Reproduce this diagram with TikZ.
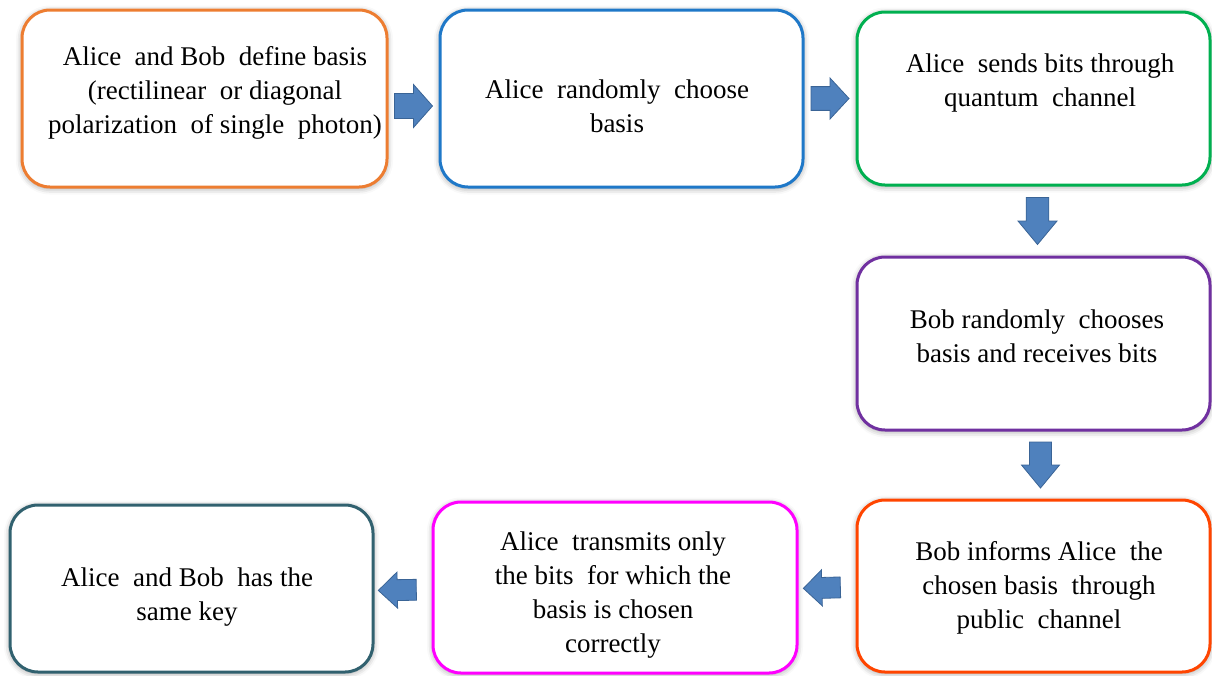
\documentclass[tikz,border=0pt]{standalone}
\usepackage{fontspec}
\setmainfont{Liberation Serif}[Ligatures=TeX]
\newfontfamily\tnr{Liberation Serif}
\usetikzlibrary{shadows.blur}
\definecolor{cOrange}{HTML}{ED7D31}
\definecolor{cBlue}{HTML}{1F78C8}
\definecolor{cGreen}{HTML}{00B050}
\definecolor{cPurple}{HTML}{7030A0}
\definecolor{cRed}{HTML}{FF4500}
\definecolor{cMagenta}{HTML}{FF00FF}
\definecolor{cTeal}{HTML}{31616F}
\definecolor{arrowfill}{HTML}{4F81BD}
\definecolor{arrowedge}{HTML}{3A6496}
\tikzset{
  box/.style={draw=#1, line width=3pt, rounded corners=28pt, fill=white,
    inner sep=0pt,
    blur shadow={shadow xshift=0pt, shadow yshift=-1.5pt, shadow blur radius=6pt, shadow opacity=40}},
  txt/.style={align=center, inner sep=0pt, font=\tnr\fontsize{27}{34}\selectfont},
  pics/barrow/.style 2 args={code={
    \fill[arrowfill, draw=arrowedge, line width=0.8pt, line join=miter]
      ({-#1/2},{-#2*0.29}) -- (0,{-#2*0.29}) -- (0,{-#2/2}) -- ({#1/2},0)
      -- (0,{#2/2}) -- (0,{#2*0.29}) -- ({-#1/2},{#2*0.29}) -- cycle;
  }},
  conn/.style={pos=0.5, sloped, allow upside down}
}
\begin{document}
\begin{tikzpicture}[x=1pt,y=-1pt]
\useasboundingbox (0,0) rectangle (1212,675);
% boxes
\node[box=cOrange,  minimum width=365pt, minimum height=177pt] (b1) at (204.5,98.5) {};
\node[box=cBlue,    minimum width=363pt, minimum height=177pt] (b2) at (621.5,98.5) {};
\node[box=cGreen,   minimum width=353pt, minimum height=173pt] (b3) at (1033.5,98.5) {};
\node[box=cPurple,  minimum width=353pt, minimum height=173pt] (b4) at (1033.5,343.5) {};
\node[box=cRed,     minimum width=353pt, minimum height=172pt] (b5) at (1033.5,586) {};
\node[box=cMagenta, minimum width=364pt, minimum height=171pt] (b6) at (615,587.5) {};
\node[box=cTeal,    minimum width=363pt, minimum height=167pt] (b7) at (191.5,588.5) {};
% texts
\node[txt] (t1) at (215,92.5) {Alice\ \ and Bob\ \ define basis\\(rectilinear\ \ or diagonal\\polarization\ \ of single\ \ photon)};
\node[txt] (t2) at (617,106) {Alice\ \ randomly\ \ choose\\basis};
\node[txt] (t3) at (1040,83) {Alice\ \ sends bits through\\quantum\ \ channel};
\node[txt] (t4) at (1037,336.5) {Bob randomly\ \ chooses\\basis and receives bits};
\node[txt] (t5) at (1039,588) {Bob informs Alice\ \ the\\chosen basis\ \ through\\public\ \ channel};
\node[txt] (t6) at (613,595.5) {Alice\ \ transmits only\\the bits\ \ for which the\\basis is chosen\\correctly};
\node[txt] (t7) at (187,597.5) {Alice\ \ and Bob\ \ has the\\same key};
% block arrows
\path ([yshift=-7.5pt]b1.east) -- ([yshift=-7.5pt]b2.west) pic[conn]{barrow={38}{43}};
\path (b2.east) -- (b3.west) pic[conn]{barrow={38}{41}};
\path ([xshift=4pt]b3.south) -- ([xshift=4pt]b4.north) pic[conn]{barrow={47}{39}};
\path ([xshift=7pt]b4.south) -- ([xshift=7pt]b5.north) pic[conn]{barrow={46}{38}};
\path ([yshift=-1pt]b5.west) -- ([yshift=-1pt]b6.east) pic[conn, pos=0.59]{barrow={37}{36}};
\path ([yshift=-2pt]b6.west) -- ([yshift=-2pt]b7.east) pic[conn, pos=0.6]{barrow={38}{36}};
\end{tikzpicture}
\end{document}
